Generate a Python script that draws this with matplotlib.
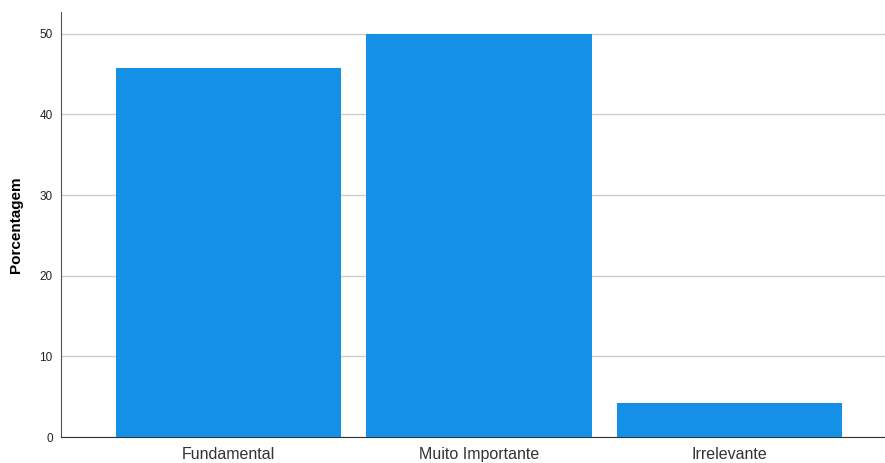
import numpy as np
import matplotlib.pyplot as plt

categorias = ['Fundamental', 'Muito Importante', 'Irrelevante']
porcentagem = [45.8, 50.0, 4.2]
yticks = [0, 10, 20, 30, 40, 50]

plt.rcParams['font.family'] = ['Liberation Sans', 'DejaVu Sans']

fig = plt.figure(figsize=(8.85, 4.63), dpi=100)
ax = fig.add_axes([0.069, 0.056, 0.931, 0.918])

x = np.arange(len(categorias))
ax.bar(x, porcentagem, width=0.9, color='#1490e6', zorder=3)

ax.set_xlim(-0.669, 2.62)
ax.set_ylim(0, 52.7)
ax.set_yticks(yticks)
ax.set_xticks(x)
ax.set_xticklabels(categorias, fontsize=11.5, color='#333333')
ax.tick_params(axis='y', labelsize=8.5, length=0, pad=6, colors='#222222')
ax.tick_params(axis='x', length=0, pad=7)
ax.yaxis.grid(True, color='#cccccc', linewidth=1, zorder=0)

for s in ['top', 'right']:
    ax.spines[s].set_visible(False)
ax.spines['left'].set_color('#555555')
ax.spines['bottom'].set_color('#333333')
ax.spines['left'].set_linewidth(0.8)
ax.spines['bottom'].set_linewidth(0.8)

ax.set_ylabel('Porcentagem', fontsize=11, fontweight='bold', labelpad=12)

fig.savefig('out.png', dpi=100, facecolor='w')
